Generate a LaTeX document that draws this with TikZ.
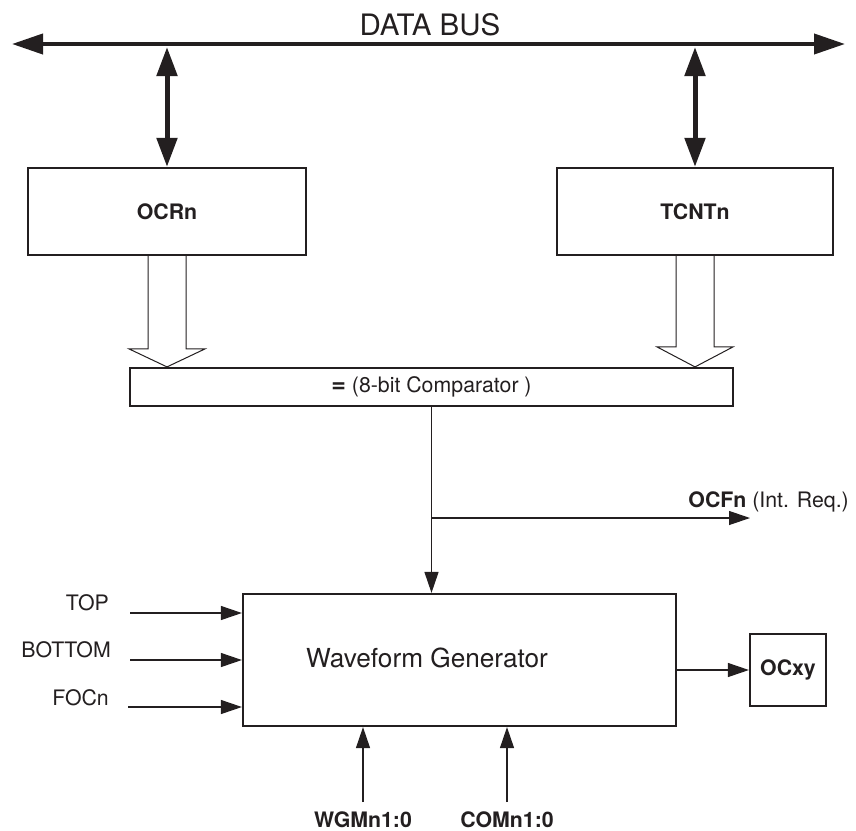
\documentclass[tikz,border=0pt]{standalone}
\usepackage{fontspec}
\setmainfont{TeX Gyre Heros}
\usepackage{tikz}
\usetikzlibrary{arrows.meta,calc}
\definecolor{ink}{HTML}{231F20}

\begin{document}
\begin{tikzpicture}[x=1pt,y=-1pt,
    box/.style={draw=ink,line width=2.2pt,inner sep=0pt},
    lbl/.style={text=ink,inner sep=0pt,font=\fontsize{21.3}{25}\selectfont},
    blbl/.style={text=ink,inner sep=0pt,font=\bfseries\fontsize{21.3}{25}\selectfont},
    thin/.style={draw=ink,line width=1.2pt,-{Triangle[length=21pt,width=14pt]}},
    busarrow/.style={draw=ink,line width=5pt,{Triangle[length=29pt,width=20pt]}-{Triangle[length=29pt,width=20pt]}},
    hollow/.style={draw=ink,line width=1pt,line join=miter}]
    \useasboundingbox (0,0) rectangle (856,830);

    \coordinate (busL) at (12,44);
    \coordinate (busR) at (845,44);
    \draw[ink,line width=4pt,{Triangle[length=31pt,width=20pt]}-{Triangle[length=31pt,width=20pt]}] (busL) -- (busR);
    \node[text=ink,inner sep=0pt,font=\fontsize{29.5}{33}\selectfont] (bus) at (430,24.5) {DATA BUS};

    \node[box,blbl,minimum width=278pt,minimum height=87pt] (ocr) at (167,211.5) {OCRn};
    \node[box,blbl,minimum width=276pt,minimum height=87pt] (tcnt) at (695,211.5) {TCNTn};
    \node[box,lbl,minimum width=603pt,minimum height=38pt] (comp) at (431.5,387) {{\bfseries\fontsize{25}{25}\selectfont =} (8-bit Comparator )};
    \node[box,minimum width=433pt,minimum height=132pt] (wave) at (459.5,660) {};
    \node[text=ink,inner sep=0pt,font=\fontsize{26.2}{30}\selectfont] (wavelbl) at (427,658) {Waveform Generator};
    \node[box,blbl,minimum width=76pt,minimum height=72pt] (ocxy) at (788,670) {OCxy};

    \draw[busarrow] ($(ocr.north |- busL)+(0,3)$) -- (ocr.north);
    \draw[busarrow] ($(tcnt.north |- busL)+(0,3)$) -- (tcnt.north);

    \draw[hollow] ($(ocr.south)+(-19,0)$) -- ($(ocr.south |- comp.north)+(-19,-18)$)
        -- ($(ocr.south |- comp.north)+(-38,-18)$) -- (ocr.south |- comp.north)
        -- ($(ocr.south |- comp.north)+(38,-18)$) -- ($(ocr.south |- comp.north)+(19,-18)$)
        -- ($(ocr.south)+(19,0)$);
    \draw[hollow] ($(tcnt.south)+(-19,0)$) -- ($(tcnt.south |- comp.north)+(-19,-20)$)
        -- ($(tcnt.south |- comp.north)+(-38,-20)$) -- (tcnt.south |- comp.north)
        -- ($(tcnt.south |- comp.north)+(38,-20)$) -- ($(tcnt.south |- comp.north)+(19,-20)$)
        -- ($(tcnt.south)+(19,0)$);

    \draw[thin] (comp.south) -- (comp.south |- wave.north);
    \coordinate (br) at (comp.south |- 0,518);
    \coordinate (ocfend) at (750,518);
    \draw[thin] (br) -- (ocfend);
    \node[anchor=base east,lbl] (ocf) at (849,507) {\textbf{OCFn} (Int. Req.)};

    \node[lbl,anchor=base east] (top) at (109,610) {TOP};
    \node[lbl,anchor=base east] (bottom) at (111,657) {BOTTOM};
    \node[lbl,anchor=base east] (focn) at (109,705) {FOCn};
    \coordinate (topin) at (130,613);
    \coordinate (bottomin) at (130,660);
    \coordinate (focnin) at (128,707);
    \draw[thin] (topin) -- (topin -| wave.west);
    \draw[thin] (bottomin) -- (bottomin -| wave.west);
    \draw[thin] (focnin) -- (focnin -| wave.west);

    \node[blbl,anchor=base] (wgm) at (363,827) {WGMn1:0};
    \node[blbl,anchor=base] (com) at (507,827) {COMn1:0};
    \coordinate (wgmin) at (363,802);
    \coordinate (comin) at (507,802);
    \draw[thin] (wgmin) -- (wgmin |- wave.south);
    \draw[thin] (comin) -- (comin |- wave.south);

    \draw[thin] (wave.east |- ocxy.west) -- (ocxy.west);
\end{tikzpicture}
\end{document}
